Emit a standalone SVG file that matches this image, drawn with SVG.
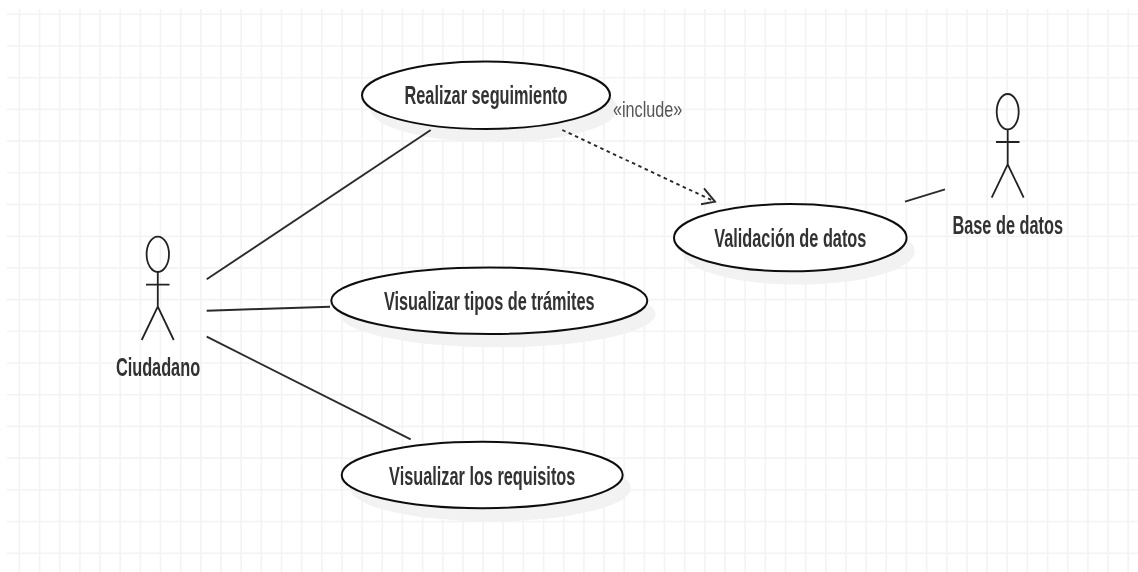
<svg xmlns="http://www.w3.org/2000/svg" width="1138" height="572" viewBox="0 0 1138 572">
<style>
.grid{stroke:#f3f3f3;stroke-width:1.6;fill:none}
.shadow{fill:#f2f2f2;stroke:none}
.uc{fill:#fff;stroke:#111;stroke-width:2}
.actor{fill:none;stroke:#222;stroke-width:1.8}
.conn{fill:none;stroke:#2a2a2a;stroke-width:1.9}
.lbl{font-family:"Liberation Sans",Arial,sans-serif;font-size:16.3px;font-weight:bold;fill:#333;text-anchor:middle}
.inc{font-family:"Liberation Sans",Arial,sans-serif;font-size:16.2px;fill:#555;text-anchor:start}
</style>
<defs><filter id="soft" x="0" y="0" width="100%" height="100%" filterUnits="userSpaceOnUse" primitiveUnits="userSpaceOnUse"><feGaussianBlur stdDeviation="0.4"/></filter></defs>
<rect width="1138" height="572" fill="#fff"/>
<g filter="url(#soft)">
<path id="grid" class="grid" d="M7 14.3H1138M7 46H1138M7 77.7H1138M7 109.4H1138M7 141.1H1138M7 172.8H1138M7 204.5H1138M7 236.2H1138M7 267.9H1138M7 299.6H1138M7 331.3H1138M7 363H1138M7 394.7H1138M7 426.4H1138M7 458.1H1138M7 489.8H1138M7 521.5H1138M7 553.2H1138M19.4 9V572M39.6 9V572M59.7 9V572M79.9 9V572M100 9V572M120.2 9V572M140.4 9V572M160.5 9V572M180.7 9V572M200.8 9V572M221 9V572M241.2 9V572M261.3 9V572M281.5 9V572M301.6 9V572M321.8 9V572M342 9V572M362.1 9V572M382.3 9V572M402.4 9V572M422.6 9V572M442.8 9V572M462.9 9V572M483.1 9V572M503.2 9V572M523.4 9V572M543.6 9V572M563.7 9V572M583.9 9V572M604 9V572M624.2 9V572M644.4 9V572M664.5 9V572M684.7 9V572M704.8 9V572M725 9V572M745.2 9V572M765.3 9V572M785.5 9V572M805.6 9V572M825.8 9V572M846 9V572M866.1 9V572M886.3 9V572M906.4 9V572M926.6 9V572M946.8 9V572M966.9 9V572M987.1 9V572M1007.2 9V572M1027.4 9V572M1047.6 9V572M1067.7 9V572M1087.9 9V572M1108 9V572M1128.2 9V572"/>
<g id="uc-seguimiento">
<ellipse class="shadow" cx="494" cy="108.5" rx="124" ry="33.7"/>
<ellipse class="uc" cx="486" cy="95.3" rx="124" ry="33.7"/>
<text class="lbl" transform="translate(486 104.3) scale(1 1.62)">Realizar seguimiento</text>
</g>
<g id="uc-tramites">
<ellipse class="shadow" cx="497.5" cy="314" rx="158" ry="33.3"/>
<ellipse class="uc" cx="489.3" cy="300.7" rx="158" ry="33.3"/>
<text class="lbl" transform="translate(489.3 310) scale(1 1.62)">Visualizar tipos de trámites</text>
</g>
<g id="uc-requisitos">
<ellipse class="shadow" cx="490.5" cy="488" rx="140.5" ry="33.3"/>
<ellipse class="uc" cx="482.2" cy="475" rx="140.5" ry="33.3"/>
<text class="lbl" transform="translate(482.2 484.5) scale(1 1.62)">Visualizar los requisitos</text>
</g>
<g id="uc-validacion">
<ellipse class="shadow" cx="798.5" cy="251" rx="116.3" ry="33.6"/>
<ellipse class="uc" cx="790.3" cy="237.7" rx="116.3" ry="33.6"/>
<text class="lbl" transform="translate(790.3 246.7) scale(1 1.62)">Validación de datos</text>
</g>
<g id="actor-ciudadano">
<ellipse class="actor" cx="157.8" cy="254.3" rx="11.2" ry="17.7"/>
<path class="actor" d="M157.8 272V306.7M146 284.7H169.5M141.7 340L157.8 306.7L173.7 340"/>
<text class="lbl" transform="translate(158 375.7) scale(1 1.62)">Ciudadano</text>
</g>
<g id="actor-base">
<ellipse class="actor" cx="1007.7" cy="111.7" rx="11" ry="17.7"/>
<path class="actor" d="M1007.7 129.4V164.3M996 142H1019.5M991.7 197.7L1007.7 164.3L1023.7 197.7"/>
<text class="lbl" transform="translate(1007.7 234) scale(1 1.62)">Base de datos</text>
</g>
<g id="connectors">
<path class="conn" d="M206.7 279.3L430.7 130"/>
<path class="conn" d="M206.7 310.7L330 306.7"/>
<path class="conn" d="M206.7 336.7L410.7 439.3"/>
<path class="conn" d="M905 201.7L945 189.3"/>
<path class="conn" stroke-dasharray="3.5 3.5" d="M562.3 130L715 201.7"/>
<path class="conn" d="M704 188.3L715 201.7L701 204.3"/>
</g>
<text id="include" class="inc" transform="translate(613 116.5) scale(1 1.35)">«include»</text>
</g>
</svg>
